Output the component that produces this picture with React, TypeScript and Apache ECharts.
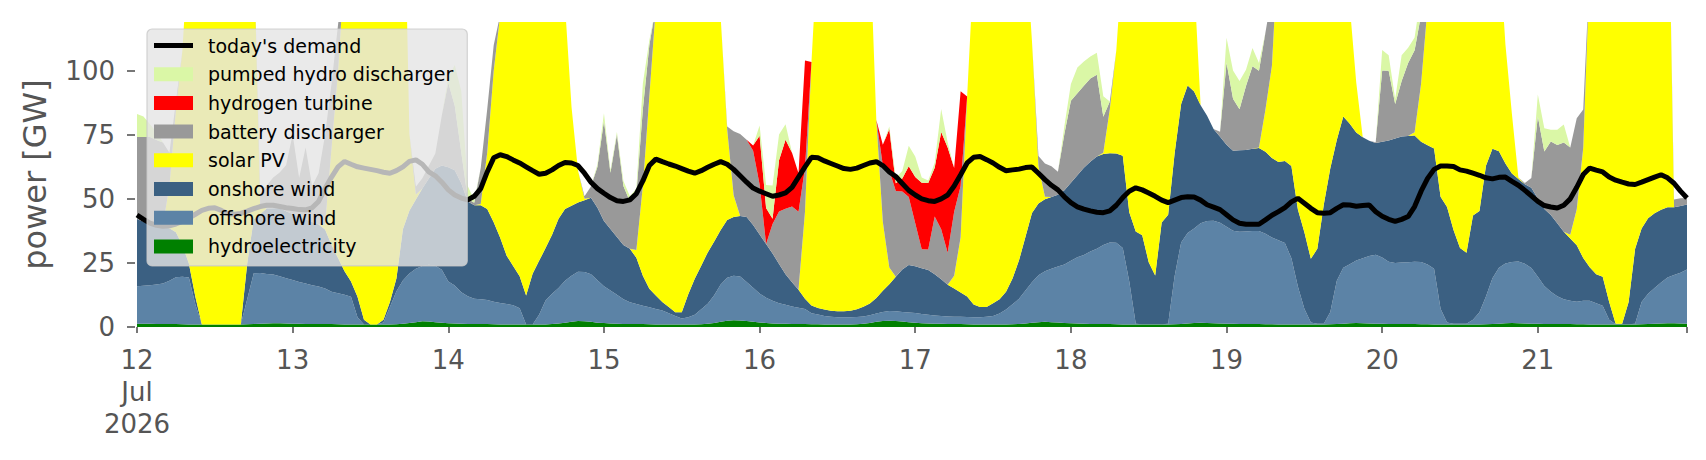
import React, { useEffect, useRef } from "react";
import * as echarts from "echarts";

// ---------- axis categories / tick labels ----------
const START_MS = Date.UTC(2026, 6, 12, 0, 0, 0);
const HOURS = 240;
const TIME_CATEGORIES: string[] = Array.from({ length: HOURS }, (_, i) =>
  new Date(START_MS + i * 3600000).toISOString().slice(0, 16).replace("T", " ")
);
const DAY_TICK_LABELS = ["12\nJul\n2026", "13", "14", "15", "16", "17", "18", "19", "20", "21"];
const Y_TICKS = [0, 25, 50, 75, 100];
const Y_MAX = 119;

// ---------- series values (GW, hourly, 12 Jul 00:00 .. 21 Jul 23:00) ----------
const HYDRO = [
  1.3,1.3,1.3,1.2,1.2,1.2,1.2,1.1,1.0,1.0,1.0,1.0,1.0,1.0,1.0,1.0,1.0,1.1,1.2,1.3,1.4,1.5,1.5,1.4,
  1.3,1.3,1.2,1.2,1.2,1.2,1.2,1.1,1.0,1.0,1.0,1.0,1.0,1.0,1.0,1.0,1.1,1.3,1.6,1.9,2.2,2.1,1.9,1.7,
  1.5,1.4,1.3,1.2,1.2,1.2,1.2,1.1,1.0,1.0,1.0,1.0,1.0,1.0,1.0,1.0,1.2,1.4,1.7,2.0,2.3,2.2,2.0,1.7,
  1.6,1.4,1.3,1.2,1.2,1.2,1.2,1.1,1.0,1.0,1.0,1.0,1.0,1.0,1.0,1.1,1.3,1.6,2.0,2.4,2.6,2.5,2.3,2.0,
  1.8,1.6,1.4,1.3,1.3,1.2,1.2,1.2,1.1,1.1,1.0,1.0,1.0,1.0,1.0,1.1,1.3,1.6,2.0,2.3,2.4,2.3,2.1,1.9,
  1.7,1.5,1.4,1.3,1.3,1.2,1.2,1.2,1.1,1.0,1.0,1.0,1.0,1.0,1.0,1.1,1.2,1.4,1.7,1.9,2.0,1.9,1.8,1.6,
  1.5,1.4,1.3,1.2,1.2,1.2,1.2,1.1,1.0,1.0,1.0,1.0,1.0,1.0,1.0,1.0,1.1,1.2,1.4,1.6,1.7,1.6,1.5,1.4,
  1.3,1.3,1.2,1.2,1.2,1.2,1.1,1.1,1.0,1.0,1.0,1.0,1.0,1.0,1.0,1.0,1.1,1.2,1.3,1.5,1.6,1.5,1.4,1.3,
  1.3,1.2,1.2,1.2,1.2,1.2,1.1,1.1,1.0,1.0,1.0,1.0,1.0,1.0,1.0,1.0,1.1,1.2,1.3,1.5,1.6,1.5,1.4,1.3,
  1.3,1.2,1.2,1.2,1.2,1.2,1.1,1.1,1.0,1.0,1.0,1.0,1.0,1.0,1.0,1.0,1.1,1.2,1.3,1.4,1.5,1.5,1.4,1.3,
];

const OFFSHORE = [
  14.6,14.8,15,15.4,15.8,16.8,18.2,18.5,18.3,7.8,0,0,0,0,0,0,0,9.8,19.8,19.8,19.3,19,18.3,17.6,
  17,16.3,15.8,15.1,14.6,13.8,12.6,12.1,11.6,10.8,2.8,0,0,0,0.8,6.8,12.8,16.8,19.3,20.8,21.6,22.2,22,20.6,
  16.3,14.8,12.3,10.8,9.8,9.6,9.3,8.8,8.4,8,7.5,6.3,0,0,3.8,9.3,11.8,13.8,16.3,18,19.3,19.3,18.6,16.5,
  14.3,12.8,11.3,9.6,8.5,7.8,7.1,6.6,6,5.4,4.4,3.3,2.3,2.8,3.8,5.8,7.8,10.8,14.6,16.8,17.4,17.2,15.3,13.3,
  11.3,9.8,8.8,8,7.4,6.8,6.3,5.8,4.3,3.8,3.3,3,2.8,2.8,2.8,2.8,2.8,3,3.3,3.6,3.8,3.8,3.8,3.8,
  3.8,3.6,3.4,3.2,3,2.9,2.8,2.8,2.8,2.8,2.8,3,3.3,4.3,5.8,7.8,9.8,12.8,15.8,18.3,19.8,20.8,21.8,22.8,
  24.3,25.8,26.8,28.3,29.3,30.8,31.8,31.8,29.8,16.8,0.3,0.1,0.1,0.1,0.1,0.3,18.8,31.8,35.3,36.8,38.8,39.8,40,39.3,
  37.8,36.3,36,36.1,36.3,36.3,35.3,33.8,32.8,31.8,25.8,14.8,6.1,0.8,0.3,0.3,4.8,16.8,21.8,23,24.3,25.3,26.3,26.9,
  25.8,24.3,23.8,24,24.1,24.3,24.3,23.3,21.7,6.1,0.8,0.3,0.3,0.3,1.8,4.8,10.8,17.8,21.8,23.3,23.8,24.1,23.3,21.7,
  18.3,14.8,12.6,10.8,9.6,9,8.8,9.1,9.2,8.3,7.3,1.8,0.1,0.1,0.1,0.3,8.7,11.8,13.9,16,17.8,18.8,19.8,21.1,
];

const ONSHORE = [
  26.2,25,23.8,22.9,22,20.5,17.6,12.3,5.5,3,0,0,0,0,0,0,0,14,21,23,25.5,25.8,26.5,26.2,
  25.8,25.5,25,24.7,24.2,23,18.2,13.7,9.2,6,8,1.8,0,0,1,2,5,20,24.5,27,30.2,33.6,37.8,40.7,
  44.5,45,42.5,37,36.5,36.7,35.5,31,25.4,18.8,15.3,12.5,11.3,19.8,21,20.5,23,27,28,27.3,27,28,29.8,28.3,
  25.5,24,22.5,21.2,20.8,18,11.7,7.2,5.3,3.4,2.4,1.5,2.5,9,14,17,20,21,21.2,22.5,22.9,23.6,25.3,24.5,
  23,21,18.5,15.3,11.9,9.5,7,4,3,2.5,2.5,2.3,2.3,2.3,2.5,3,3.8,4.6,6,8.2,10.5,13.5,16.5,18.5,
  18.2,17.8,17.4,16.1,14.3,12.4,11,9.5,8,5,4,3.8,5,5.5,7,10,15,21,27,28,28,28,28,29,
  30.5,32,34,35,36,35.5,34.8,34.8,36,27,36,34.7,24.2,19,39.7,42.5,48,54,57.5,53.5,46,41,35.8,33.5,
  32,31.2,31.8,31.8,32,32.3,32,31,30.6,32,36,30,29.9,24.8,29.2,46.5,56,55,59,54.8,50,47.2,45,43.6,
  45.2,47.3,48.5,49.1,49.2,49.2,46.9,46.5,46.9,43.7,45,36.5,29.5,27.7,40.7,39.5,51,50.5,45.5,39,34.5,32.1,31,31.3,
  30.5,30,29.9,28.5,26.4,24.3,22,16.7,13.1,11.3,11.3,7,0.2,0.2,8.7,29.2,28.6,29.4,29.2,28.3,27.4,26.4,26,25.4,
];

const SOLAR = [
  0,0,0,0,1,16.5,48,76,125,143,148.8,150,151,150,148.8,148.8,148.8,120,108,3,0,0,0,0,
  0,0,0,0,0,2,38,73,118,132,138,147,148.8,148.8,147,140,131,162,30,2,0,0,0,0,
  0,0,0,0,0,0.5,22,59,87,122,126,130,137.5,129,124,119,114,108,79.5,38.5,12.5,0.5,0,0,
  0,0,0,0,0,3,35,75,112.5,140,142,144,144,137,131,126,121,117,83,35.5,8.5,0,0,0,
  0,0,0,0,0,0,0,34,95,142.5,143,143.5,143.7,143.7,143.5,143,142.2,141.2,69.5,27,6.5,0,0,0,
  0,0,0,0,0,0,5,21.5,78,131,142,142,140.5,139,136,131,124,115,67,14.5,1,0,0,0,
  0,0,0,0,0,0.5,17.2,40.2,78,105,112.5,114,124.5,129.7,109,106,82,63,56,43.5,0,0,0,0,
  0,0,0,0,0,0.2,16.5,36,85.4,85,87,104,112.8,123.2,119.3,102,88,77,68,46,19.5,0,0,0,
  0,0,0,0,0,1.3,22.6,54,80.2,99,103,112,119,120.8,106.3,104.5,87,80.5,81.5,46.5,23.3,0.6,0,0,
  0,0,0,0,0,1.5,14,43,116.5,129.2,130.2,140,148.5,148.5,140,119.3,111.5,107.6,105.7,104.5,149.6,0,0,0,
];

const BATTERY = [
  32,33,34,33.5,32,13,3,0,0,0,0,0,0,0,0,0,0,0,0,5,9,12,14,18,
  31,15,28,14,20,35,25,18,0,0,0,0,0,0,0,0,0,0,0,3,4,5,6,19.5,
  33,25,12,1,1,14,17,10,0,0,0,0,0,0,0,0,0,0,0,0,0,1,4.4,16,
  39,22,40,23,18.5,22,30,20,0,0,0,0,0,0,0,0,0,0,0,1,25,32,30.2,29,
  19.5,0,11.5,20.5,25.5,29.5,30.5,17,0,0,0,0,0,0,0,0,0,0,0,22,38,33.5,30.5,26.5,
  16.8,7.4,8,22.5,19.5,12.5,25,20,0,0,0,0,0,0,0,0,0,0,0,4,13,12,9,22,
  32,32,32,32.5,31.9,14,3,0,0,0,0,0,0,0,0,0,0,0,0,0,0,0,0,2,
  32,20.3,16,24.9,32.2,30,30,28,0,0,0,0,0,0,0,0,0,0,0,0,0,0,0,0.3,
  27.8,27.2,13.5,21.7,28.5,32,27,0,0,0,0,0,0,0,0,0,0,0,0,0,0,0,0.5,3.8,
  32,22.5,28.7,30.5,34.8,34,35.5,15,0,0,0,0,0,0,0,0,0,0,0,0,0,3,3,2.5,
];

const HYDROGEN = [
  0,0,0,0,0,0,0,0,0,0,0,0,0,0,0,0,0,0,0,0,0,0,0,0,
  0,0,0,0,0,0,0,0,0,0,0,0,0,0,0,0,0,0,0,0,0,0,0,0,
  0,0,0,0,0,0,0,0,0,0,0,0,0,0,0,0,0,0,0,0,0,0,0,0,
  0,0,0,0,0,0,0,0,0,0,0,0,0,0,0,0,0,0,0,0,0,0,0,2,
  19,14,2,20,27,21,15,42,0,0,0,0,0,0,0,0,0,0,0,8,16,3,5,12,
  18,26,26,19,38,41,17,37,0,0,0,0,0,0,0,0,0,0,0,0,0,0,0,0,
  0,0,0,0,0,0,0,0,0,0,0,0,0,0,0,0,0,0,0,0,0,0,0,0,
  0,0,0,0,0,0,0,0,0,0,0,0,0,0,0,0,0,0,0,0,0,0,0,0,
  0,0,0,0,0,0,0,0,0,0,0,0,0,0,0,0,0,0,0,0,0,0,0,0,
  0,0,0,0,0,0,0,0,0,0,0,0,0,0,0,0,0,0,0,0,0,0,0,0,
];

const PUMPED = [
  9,8,5,3,0,0,0,0,0,0,0,0,0,0,0,0,0,0,0,0,0,0,0,0,
  0,0,0,0,0,0,0,0,0,0,0,0,0,0,0,0,0,0,0,0,0,0,0,0,
  2,16,24,5,1,0,0,0,0,0,0,0,0,0,0,0,0,0,0,0,0,0,0,1,
  3,1,1,2,2,2,10,2,0,0,0,0,0,0,0,0,0,0,0,0,0,0,0,0,
  4,9,13,10,6,0,0,0,0,0,0,0,0,0,0,0,0,0,0,0,1,2,3,8,
  8,2,1,2,9,2,0,0,0,0,0,0,0,0,0,0,0,0,0,0,0,0,0,3,
  6.5,10,9.5,8.5,8.6,8,0,0,0,0,0,0,0,0,0,0,0,0,0,0,0,0,0,0,
  9.8,11,11,6.4,7.2,3,0,0,0,0,0,0,0,0,0,0,0,0,0,0,0,0,0,0,
  8,6,2,10,6,5,8,0,0,0,0,0,0,0,0,0,0,0,0,0,0,0,0,0,
  8.6,9,4.6,6,7,0,0,0,0,0,0,0,0,0,0,0,0,0,0,0,0,0,0,0,
];

const DEMAND = [
  43.7,42,40.5,39.7,39.3,39.5,40.2,41.2,42.5,44,45.5,46.3,46.5,45.5,44.2,44,44.3,45.2,46.2,47,47.5,47.5,47,46.5,
  46.2,45.8,45.7,46.5,49,54,58.5,62.5,64.6,63.5,62.5,62,61.5,61,60.4,60,61,62.5,64.6,65.2,63.5,60.5,59,56.5,
  53.5,51.5,50.3,49.6,51,54,60.5,66,67.2,66.5,65.2,64,62.5,61,59.6,60,61.3,63,64.2,64,63,60,56.5,54,
  52.2,50.5,49.3,49,49.6,52,57,63,65.5,64.5,63.6,62.8,61.8,60.8,60,61,62.3,63.5,64.5,63.5,61.5,59,56.5,54.2,
  53,52,51,51.5,52.3,54.5,58.5,62.5,66.2,66,64.8,63.8,62.8,61.8,61.5,62,63,64,64.5,63,60.5,58.7,56,53.3,
  51.5,50,49.3,49,50,51.5,55,59.4,64,66.2,66.5,65.3,64,62.3,61,61.3,61.6,62.2,62.4,60,57.5,55.3,53.5,50.8,
  48.5,46.9,46,45.3,44.8,44.6,45.3,47.5,50.5,53,54.3,53.5,52.3,51,49.5,48.5,49.5,50.5,50.8,50.7,49.5,47.7,46.8,45.8,
  43.8,41.8,40.5,40.1,40.1,40.1,41.8,43.6,45,46.6,48.8,50.2,48.3,46.3,44.6,44.4,44.6,46.3,47.7,47.6,47.1,47.4,47.6,45,
  43.2,42,41.2,42,43.1,47,53,58,61.5,62.8,62.8,62.6,61.3,60.8,60,59.2,58.2,57.8,58.4,58.5,56.8,55.3,53.3,51.2,
  49,47.4,46.8,46.4,47.5,50,54.5,59.5,62,61.2,60.5,58.5,57.3,56.5,55.8,55.6,56.5,57.5,58.5,59.4,58.2,56.1,53,50.3,
];

// ---------- styling ----------
const FONT = "DejaVu Sans";
const AXIS_GREY = "#555555";
const COLORS = {
  hydro: "#008000",
  offshore: "#5c83a6",
  onshore: "#3b6082",
  solar: "#ffff00",
  battery: "#999999",
  hydrogen: "#ff0000",
  pumped: "#daf7a6",
  demand: "#000000",
};
// thick horizontal bar centred in a 39x14 legend slot
const DEMAND_ICON = "path://M0,0M0,14M0,4.5L39,4.5L39,9.5L0,9.5Z";

function areaSeries(name: string, data: number[], color: string) {
  return {
    name,
    type: "line",
    stack: "total",
    data,
    symbol: "none",
    showSymbol: false,
    smooth: false,
    clip: true,
    color,
    itemStyle: { color },
    lineStyle: { width: 0, opacity: 0, color },
    areaStyle: { color, opacity: 1 },
    emphasis: { disabled: true },
    silent: true,
    z: 2,
  };
}

export default function App() {
  const ref = useRef<HTMLDivElement>(null);

  useEffect(() => {
    if (!ref.current) return;
    const chart = echarts.init(ref.current, null, { renderer: "svg" });

    const option = {
      animation: false,
      backgroundColor: "#ffffff",
      textStyle: { fontFamily: FONT },
      grid: { left: 137, right: 19, top: 22, bottom: 133, containLabel: false },
      xAxis: {
        type: "category",
        data: TIME_CATEGORIES,
        boundaryGap: false,
        offset: 4,
        axisLine: { show: false },
        axisTick: {
          show: true,
          length: 6,
          interval: (i: number) => i % 24 === 0 || i === HOURS - 1,
          lineStyle: { color: AXIS_GREY, width: 1.6 },
        },
        axisLabel: {
          interval: (i: number) => i % 24 === 0,
          formatter: (_v: string, i: number) => DAY_TICK_LABELS[Math.round(i / 24)] ?? "",
          color: AXIS_GREY,
          fontFamily: FONT,
          fontSize: 26,
          lineHeight: 32,
          margin: 13,
          align: "center",
        },
        splitLine: { show: false },
      },
      yAxis: {
        type: "value",
        min: 0,
        max: Y_MAX,
        interval: 25,
        offset: 2,
        axisLine: { show: false },
        axisTick: {
          show: true,
          length: 8,
          customValues: Y_TICKS,
          lineStyle: { color: AXIS_GREY, width: 1.6 },
        },
        axisLabel: {
          customValues: Y_TICKS,
          color: AXIS_GREY,
          fontFamily: FONT,
          fontSize: 26,
          margin: 20,
        },
        splitLine: { show: false },
        name: "power [GW]",
        nameLocation: "middle",
        nameGap: 84,
        nameTextStyle: { fontSize: 32, color: AXIS_GREY, fontFamily: FONT },
      },
      legend: {
        orient: "vertical",
        left: 147,
        top: 29,
        z: 10,
        selectedMode: false,
        backgroundColor: "rgba(229,229,229,0.8)",
        borderColor: "rgba(200,200,200,0.8)",
        borderWidth: 1.2,
        borderRadius: 5,
        padding: [7, 14, 10, 7],
        itemWidth: 39,
        itemHeight: 14,
        itemGap: 9.7,
        textStyle: { fontSize: 19, color: "#000000", fontFamily: FONT, padding: [0, 0, 0, 10] },
        data: [
          { name: "today's demand", icon: DEMAND_ICON },
          { name: "pumped hydro discharger", icon: "rect" },
          { name: "hydrogen turbine", icon: "rect" },
          { name: "battery discharger", icon: "rect" },
          { name: "solar PV", icon: "rect" },
          { name: "onshore wind", icon: "rect" },
          { name: "offshore wind", icon: "rect" },
          { name: "hydroelectricity", icon: "rect" },
        ],
      },
      series: [
        areaSeries("hydroelectricity", HYDRO, COLORS.hydro),
        areaSeries("offshore wind", OFFSHORE, COLORS.offshore),
        areaSeries("onshore wind", ONSHORE, COLORS.onshore),
        areaSeries("solar PV", SOLAR, COLORS.solar),
        areaSeries("battery discharger", BATTERY, COLORS.battery),
        areaSeries("hydrogen turbine", HYDROGEN, COLORS.hydrogen),
        areaSeries("pumped hydro discharger", PUMPED, COLORS.pumped),
        {
          name: "today's demand",
          type: "line",
          data: DEMAND,
          symbol: "none",
          showSymbol: false,
          smooth: false,
          color: COLORS.demand,
          itemStyle: { color: COLORS.demand },
          lineStyle: { color: COLORS.demand, width: 5 },
          emphasis: { disabled: true },
          silent: true,
          z: 3,
        },
      ],
    };

    chart.setOption(option as any);
    return () => chart.dispose();
  }, []);

  return (
    <div
      ref={ref}
      style={{ position: "fixed", left: 0, top: 0, width: 1706, height: 460, background: "#ffffff" }}
    />
  );
}
